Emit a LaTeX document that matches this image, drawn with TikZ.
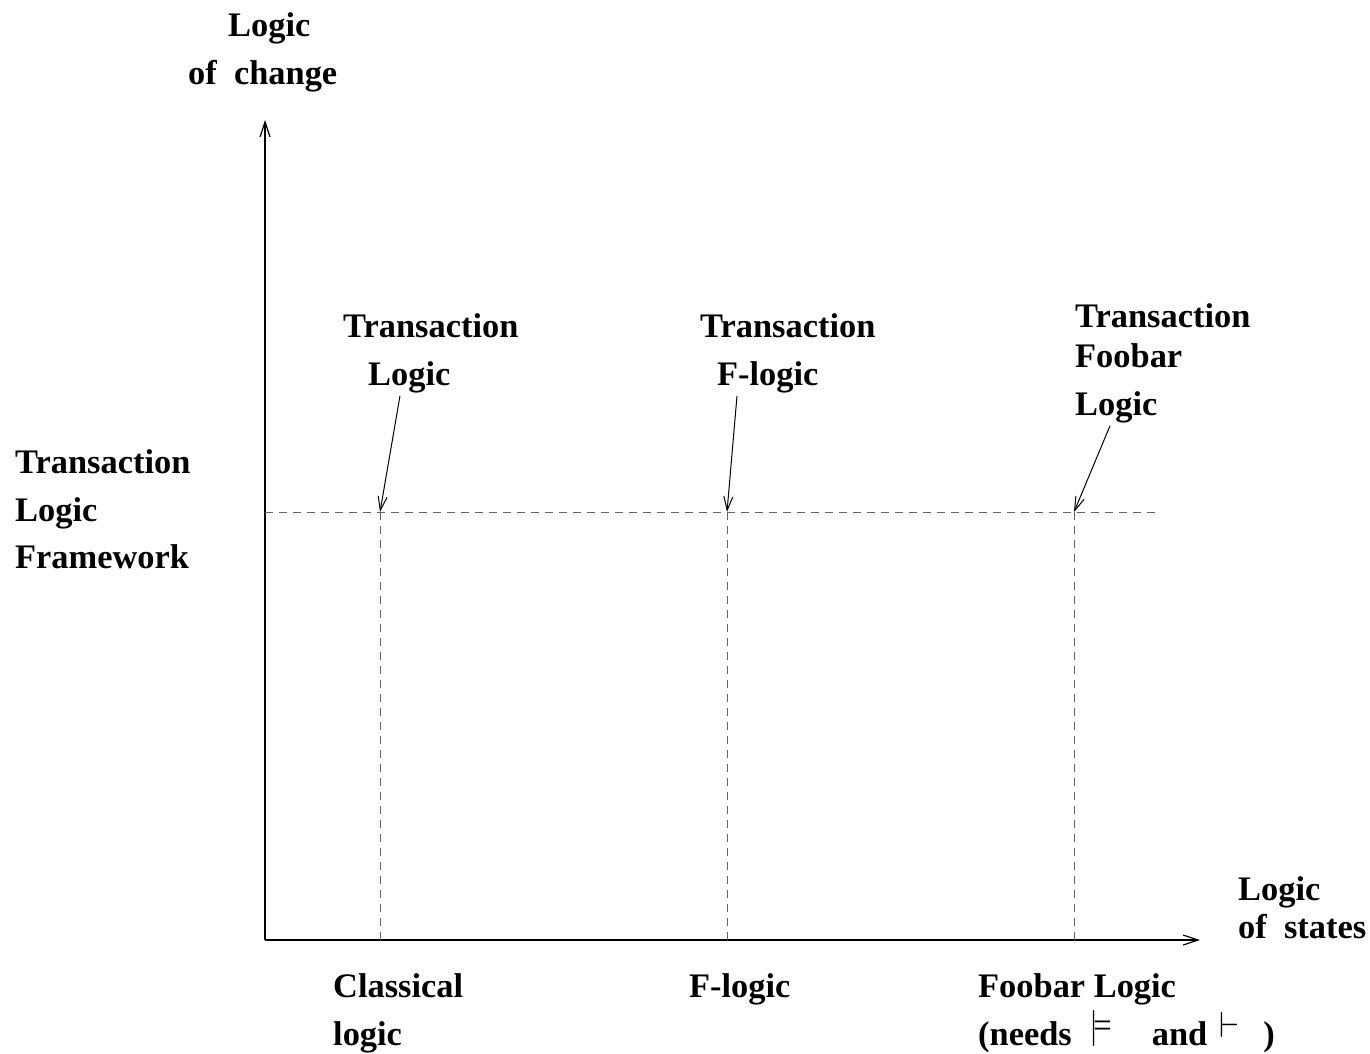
\RequirePackage{fix-cm}
\documentclass[tikz,border=0pt]{standalone}
\usepackage{amsmath}
\usepackage{amssymb}
\usepackage{fontspec}
\setmainfont{Liberation Serif}
\usetikzlibrary{arrows.meta}
\newcommand{\relsym}[1]{\raisebox{8pt}{\scalebox{0.95}[1.05]{$#1$}}}
\tikzset{
  lbl/.style={anchor=base west,inner sep=0pt,font=\fontsize{34.4}{48}\selectfont\bfseries},
  axis/.style={line width=1.4pt,-{Straight Barb[length=15pt,width=10pt,line width=1.2pt]}},
  grid/.style={gray!80!black,line width=1pt,dash pattern=on 8pt off 6pt},
  pointer/.style={line width=1pt,-{Straight Barb[length=14pt,width=9pt,line width=1pt]}}
}
\begin{document}
\begin{tikzpicture}[x=1pt,y=-1pt]
                \useasboundingbox (0,0) rectangle (1370,1053);
                % axes
                \coordinate (O) at (265,940);
                \coordinate (ytop) at (265,120);
                \coordinate (xend) at (1200,940);
                \draw [axis] (O) -- (ytop);
                \draw [axis] (O) -- (xend);
                % framework level and the three logics
                \coordinate (fw) at (265,512);
                \coordinate (fwend) at (1155,512);
                \coordinate (p1) at (380,512);
                \coordinate (p2) at (727,512);
                \coordinate (p3) at (1074,512);
                \coordinate (q1) at (380,940);
                \coordinate (q2) at (727,940);
                \coordinate (q3) at (1074,940);
                \draw [grid] (fw) -- (fwend);
                \draw [grid] (p1) -- (q1);
                \draw [grid] (p2) -- (q2);
                \draw [grid] (p3) -- (q3);
                % axis labels
                \node [lbl] (ch1) at (228,36) {Logic};
                \node [lbl] (ch2) at (188,84) {of\ \ change};
                \node [lbl] (st1) at (1238,900) {Logic};
                \node [lbl] (st2) at (1238,938) {of\ \ states};
                \node [lbl] (fw1) at (15,473) {Transaction};
                \node [lbl] (fw2) at (15,521) {Logic};
                \node [lbl] (fw3) at (15,568) {Framework};
                % upper labels
                \node [lbl] (tl1) at (343,337) {Transaction};
                \node [lbl] (tl2) at (368,385) {Logic};
                \node [lbl] (tf1) at (700,337) {Transaction};
                \node [lbl] (tf2) at (717,385) {F-logic};
                \node [lbl] (tb1) at (1075,327) {Transaction};
                \node [lbl] (tb2) at (1075,367) {Foobar};
                \node [lbl] (tb3) at (1075,415) {Logic};
                \draw [pointer] ([xshift=32pt,yshift=-3pt]tl2.south west) -- (p1);
                \draw [pointer] ([xshift=20pt,yshift=-3pt]tf2.south west) -- (p2);
                \draw [pointer] ([xshift=35pt,yshift=-3pt]tb3.south west) -- (p3);
                % lower labels
                \node [lbl] (cl1) at (333,997) {Classical};
                \node [lbl] (cl2) at (333,1045) {logic};
                \node [lbl] (fl1) at (689,997) {F-logic};
                \node [lbl] (fb1) at (978,997) {Foobar Logic};
                \node [lbl] (fb2) at (978,1045) {(needs\hspace{18pt}\relsym{\models}\hspace{40pt}and\hspace{12pt}\relsym{\vdash}\hspace{24pt})};
            \end{tikzpicture}
\end{document}
